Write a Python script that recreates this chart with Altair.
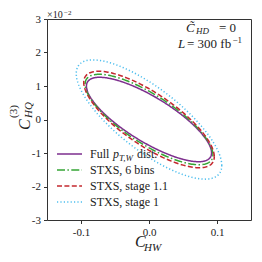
import numpy as np
import pandas as pd
import altair as alt

# ---- data ----
series = ["Full", "STXS, 6 bins", "STXS, stage 1.1", "STXS, stage 1"]
colors = ["#7e2f8e", "#35a535", "#c4282f", "#4dbeee"]
dashes = [[1, 0], [8, 2.4, 1.5, 2.4], [5, 2.4], [1.2, 2.2]]
# ellipse parameters: half-extent in C_HW, half-extent in C_HQ (x1e-2), correlation
x_half = [0.092, 0.094, 0.096, 0.107]
y_half = [1.26, 1.35, 1.44, 1.78]
rho = [-0.79, -0.78, -0.77, -0.77]
x_ticks = [-0.1, 0.0, 0.1]
y_ticks = [-3, -2, -1, 0, 1, 2, 3]

FONT = "Liberation Serif"
t = np.linspace(0, 2 * np.pi, 241)
rows = []
for s, a, b, r in zip(series, x_half, y_half, rho):
    for i, tt in enumerate(t):
        rows.append({"series": s, "x": a * np.cos(tt),
                     "y": b * (r * np.cos(tt) + np.sqrt(1 - r * r) * np.sin(tt)),
                     "o": i})
df = pd.DataFrame(rows)

xenc = alt.X("x:Q", scale=alt.Scale(domain=[-0.15, 0.15], nice=False, zero=False),
             axis=alt.Axis(values=x_ticks, title=None, grid=False, domain=False,
                           tickSize=3.5, tickColor="#333", labelFont=FONT, labelFontSize=11,
                           labelColor="#222", labelPadding=3,
                           labelExpr="replace(datum.label, '\u2212', '-')"))
yenc = alt.Y("y:Q", scale=alt.Scale(domain=[-3, 3], nice=False, zero=False),
             axis=alt.Axis(values=y_ticks, title=None, grid=False, domain=False,
                           tickSize=3.5, tickColor="#333", labelFont=FONT, labelFontSize=11,
                           labelColor="#222", labelPadding=3,
                           labelExpr="replace(datum.label, '\u2212', '-')"))

layers = []
for s, c, d in zip(series, colors, dashes):
    layers.append(
        alt.Chart(df[df.series == s]).mark_line(color=c, strokeDash=d, strokeWidth=1.5, clip=True)
        .encode(x=xenc, y=yenc, order="o:Q")
    )


def txt(s, x, y, size=12, italic=False, angle=0, align="left", baseline="alphabetic"):
    kw = dict(font=FONT, fontSize=size, color="#222", align=align, baseline=baseline, angle=angle)
    if italic:
        kw["fontStyle"] = "italic"
    return alt.Chart(pd.DataFrame({"t": [s]})).mark_text(**kw).encode(
        x=alt.value(x), y=alt.value(y), text="t:N")


# legend
leg_labels = ["", "STXS, 6 bins", "STXS, stage 1.1", "STXS, stage 1"]
for i, (c, d) in enumerate(zip(colors, dashes)):
    yy = 135 + 16 * i
    layers.append(alt.Chart(pd.DataFrame({"a": [0]})).mark_rule(color=c, strokeDash=d, strokeWidth=1.5)
                  .encode(x=alt.value(10), x2=alt.value(35), y=alt.value(yy)))
    if leg_labels[i]:
        layers.append(txt(leg_labels[i], 43, yy + 4, 12))
layers += [txt("Full", 43, 139, 12), txt("p", 66, 139, 12, True), txt("T,W", 72, 142, 9, True),
           txt("dist.", 90, 139, 12)]

# axis titles
layers += [txt("C", 88, 228, 16, True), txt("HW", 97, 232, 11, True)]
layers += [txt("C", -17, 111, 16, True, angle=270), txt("HQ", -15, 99, 11, True, angle=270),
           txt("(3)", -30, 99, 11, False, angle=270)]
# multiplier
layers += [txt("\u00d710", 0, -1, 10), txt("\u22122", 17, -4, 7)]
# annotations
layers += [txt("C\u0303", 139, 13, 13, True), txt("HD", 149, 15, 9, True), txt("= 0", 189, 13, 13, align="right")]
layers += [txt("L", 131, 29, 13, True), txt("= 300 fb", 140, 29, 13), txt("\u22121", 185.5, 24, 9)]

chart = alt.layer(*layers).properties(
    width=204, height=201,
    padding={"left": 39, "top": 11, "right": 3, "bottom": 34},
    autosize=alt.AutoSizeParams(type="none"),
).configure_view(stroke="#333", strokeWidth=1)

chart.save("out.html", embed_options={"renderer": "svg", "actions": False})
